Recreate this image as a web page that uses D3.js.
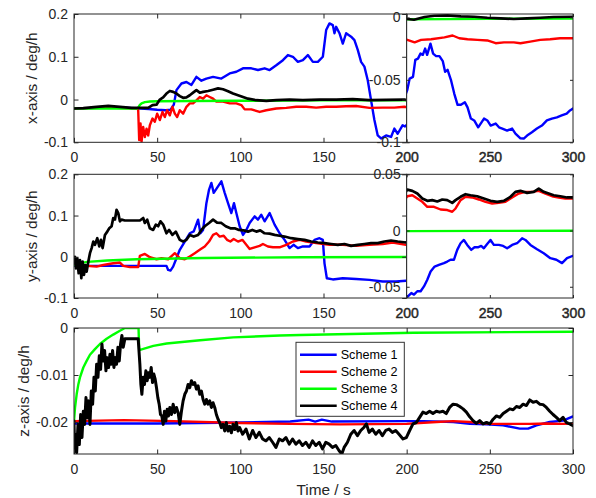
<!DOCTYPE html>
<html>
<head>
<meta charset="utf-8">
<script src="https://cdn.jsdelivr.net/npm/d3@7"></script>
<style>
  html, body { margin: 0; padding: 0; background: #fff; }
  svg { display: block; font-family: "Liberation Sans", Arial, Helvetica, sans-serif; }
</style>
</head>
<body>
<script>
// Gyro bias estimates (deg/h) for four schemes, per axis, as [time s, value]

const seriesNames = ["Scheme 1", "Scheme 2", "Scheme 3", "Scheme 4"];
const seriesColors = ["#0000ff", "#ff0000", "#00ff00", "#000000"];

const xTicksMain = [0, 50, 100, 150];
const xTicksInset = [200, 250, 300];
const xTicksFull = [0, 50, 100, 150, 200, 250, 300];
const yTicksXY = [-0.1, 0, 0.1, 0.2];
const yTicksXInset = [-0.1, -0.05, 0];
const yTicksYInset = [-0.05, 0, 0.05];
const yTicksZ = [-0.02, -0.01, 0];

// ---- x-axis ----
const xBlue = [[0,-0.021],[10,-0.02],[20,-0.018],[30,-0.019],[40,-0.021],[45,-0.022],[50,-0.024],[55,-0.025],[58,-0.024],[60,-0.012],[61.6,0.022],[64.6,0.0375],[67.6,0.041],[70.6,0.034],[73.6,0.053],[76.6,0.044],[79.6,0.049],[83.6,0.053],[88.6,0.049],[93.6,0.061],[97.6,0.065],[101.6,0.073],[106.6,0.073],[110.6,0.069],[114.6,0.073],[117.6,0.069],[121.6,0.080],[125.6,0.092],[128.6,0.104],[131.6,0.100],[134.6,0.088],[137.6,0.092],[140.6,0.104],[143.6,0.088],[146.6,0.088],[149.6,0.100],[151.6,0.1625],[153.6,0.178],[155.6,0.174],[156.6,0.155],[157.6,0.170],[159.6,0.155],[161.6,0.131],[163.6,0.155],[166.6,0.147],[168.6,0.139],[170.6,0.116],[172.6,0.088],[174.6,0.077],[176.6,0.045],[178.6,-0.002],[180.6,-0.048],[182.6,-0.084],[184.6,-0.091],[187.6,-0.084],[190.6,-0.0875],[192.6,-0.068],[194.6,-0.080],[197.6,-0.060],[199,-0.063],[200.4,-0.058],[201.8,-0.049],[203.8,-0.0476],[205.2,-0.034],[206.8,-0.033],[208.3,-0.029],[209.7,-0.030],[211.1,-0.025],[212.3,-0.030],[214.3,-0.021],[215.9,-0.029],[217.7,-0.031],[219.7,-0.031],[221.7,-0.035],[223.1,-0.0435],[224.6,-0.042],[226.6,-0.050],[228.6,-0.061],[230.6,-0.070],[232.6,-0.070],[235,-0.068],[236.6,-0.072],[238.6,-0.081],[240.6,-0.0825],[243,-0.088],[244.5,-0.085],[246.5,-0.081],[248.5,-0.0825],[250.5,-0.0866],[253.5,-0.085],[255.5,-0.088],[257.5,-0.089],[260.4,-0.0906],[263.4,-0.089],[265.4,-0.093],[268.4,-0.0968],[270.4,-0.097],[272.4,-0.0946],[275.3,-0.092],[278.3,-0.089],[281.3,-0.0866],[284.3,-0.0825],[287.3,-0.081],[290.3,-0.080],[293.2,-0.0785],[296.2,-0.077],[298.2,-0.0745],[300,-0.073]];
const xRed = [[0,-0.021],[10,-0.02],[20,-0.019],[30,-0.02],[38,-0.021],[38.6,-0.025],[39.2,-0.095],[40,-0.056],[40.6,-0.099],[41.6,-0.064],[42.6,-0.0875],[43.6,-0.068],[44.6,-0.084],[45.6,-0.060],[47.2,-0.0445],[48.6,-0.052],[50,-0.033],[51.6,-0.048],[53.2,-0.029],[54.6,-0.041],[56,-0.025],[57.6,-0.037],[59.2,-0.017],[60.6,-0.033],[62,-0.041],[63.6,-0.025],[65.6,-0.033],[67.6,-0.017],[69.6,-0.009],[71.6,-0.009],[73.6,-0.002],[75.6,0.006],[77.6,0.002],[79.6,0.010],[81.6,0.006],[83.6,0.002],[85.6,-0.005],[89.6,-0.005],[93.6,-0.009],[97.6,-0.009],[100.6,-0.013],[102.6,-0.023],[106.6,-0.023],[111.6,-0.029],[115.6,-0.025],[121.6,-0.021],[127.6,-0.0195],[133.6,-0.017],[139.6,-0.017],[145.6,-0.019],[151.6,-0.017],[157.6,-0.017],[163.6,-0.0156],[169.6,-0.015],[177.6,-0.0195],[185.6,-0.019],[192.6,-0.019],[198.6,-0.017],[200.4,-0.018],[204.8,-0.020],[208.7,-0.018],[214.7,-0.0175],[222.7,-0.016],[227.6,-0.0145],[231.6,-0.0167],[236.6,-0.0175],[242.5,-0.018],[248.5,-0.0185],[253.5,-0.0207],[258.5,-0.020],[264.4,-0.020],[268.4,-0.0207],[274.3,-0.0194],[280.3,-0.018],[286.3,-0.0175],[292.2,-0.0167],[300,-0.0167]];
const xGreen = [[0,-0.021],[38,-0.021],[38.6,-0.019],[39.5,-0.013],[40.6,-0.009],[42.6,-0.006],[45.6,-0.0047],[50,-0.004],[70,-0.0035],[100,-0.003],[150,-0.002],[200,-0.0015],[250,-0.0012],[300,-0.001]];
const xBlack = [[0,-0.021],[5.6,-0.02],[13.6,-0.017],[20.6,-0.015],[27.6,-0.017],[34.6,-0.0195],[44.6,-0.0195],[47.2,-0.013],[49.6,-0.012],[51.6,0],[53.6,0.005],[55.6,0.014],[57.6,0.020],[59.6,0.018],[61.6,0.014],[63.6,0.008],[65.6,0.004],[67.6,0.005],[69.6,0.010],[71.6,0.016],[73.6,0.022],[75.6,0.016],[77.6,0.018],[80.6,0.020],[83.6,0.023],[86.6,0.026],[89.6,0.024],[92.6,0.0195],[95.6,0.014],[98.6,0.010],[101.6,0.006],[104.6,0.002],[109.6,-0.0016],[115.6,-0.003],[121.6,-0.0016],[129.6,0],[137.6,-0.0016],[147.6,0],[157.6,0],[167.6,0.001],[177.6,-0.0016],[187.6,-0.001],[198.6,0],[200.4,-0.0013],[204.4,-0.0019],[210.7,0.0003],[216.7,0.0013],[224.6,0.0016],[232.6,0.0008],[240.6,0.0005],[248.5,-0.0003],[256.5,-0.0008],[264.4,-0.0013],[272.4,-0.0008],[280.3,-0.0003],[288.3,0.0003],[300,0.0005]];

// ---- y-axis ----
const yBlue = [[0,-0.022],[20,-0.022],[40,-0.022],[55.6,-0.022],[56.6,-0.032],[58,-0.0335],[59.6,-0.024],[61.6,-0.0035],[63.6,0.017],[66.6,0.037],[69.6,0.057],[72,0.0615],[74.6,0.090],[76,0.057],[77.6,0.065],[79.6,0.130],[81.2,0.163],[82.6,0.179],[84,0.155],[86,0.167],[88.6,0.183],[90.6,0.155],[92.6,0.130],[94.6,0.106],[96.2,0.130],[97.6,0.106],[99.6,0.074],[101.6,0.053],[103.6,0.065],[105.6,0.082],[108.6,0.098],[110.6,0.090],[112.6,0.102],[114.6,0.086],[117.6,0.106],[120.6,0.078],[123.6,0.057],[126.6,0.041],[129.6,0.021],[132,0.029],[134.6,0.021],[137.6,0.025],[141.6,0.025],[144.6,0.041],[147.6,0.045],[149.6,0.041],[150.6,-0.016],[152,-0.052],[155.6,-0.055],[161.6,-0.052],[169.6,-0.054],[177.6,-0.056],[185.6,-0.060],[193.6,-0.060],[199.6,-0.058],[200.4,-0.059],[202.8,-0.0556],[204.4,-0.057],[206.4,-0.054],[208.4,-0.054],[210.4,-0.0497],[212.4,-0.0438],[214.4,-0.0364],[216.8,-0.032],[219.4,-0.0305],[222.4,-0.029],[224.4,-0.0276],[226.4,-0.026],[228.4,-0.026],[230.4,-0.0172],[232.4,-0.0113],[234.4,-0.0084],[236.4,-0.0128],[238.8,-0.0172],[240.8,-0.0149],[242.8,-0.0149],[244.8,-0.0137],[246.4,-0.0158],[248.4,-0.012],[250.4,-0.0084],[252.4,-0.0128],[255.4,-0.0128],[258,-0.0137],[260.4,-0.0158],[263.4,-0.0128],[266.4,-0.0113],[269.4,-0.0069],[271.4,-0.0084],[274.4,-0.0128],[278.4,-0.0166],[282.4,-0.0202],[286.4,-0.0246],[290,-0.026],[293.4,-0.029],[296.4,-0.0246],[300,-0.0225]];
const yRed = [[0,-0.020],[7.6,-0.022],[13.6,-0.024],[17.6,-0.020],[23.6,-0.0157],[27.6,-0.014],[29.6,-0.022],[33.6,-0.025],[38.6,-0.025],[39.6,0.002],[42.6,0.007],[45.6,-0.001],[49.6,-0.006],[52.6,-0.0035],[56.6,-0.006],[60.6,0.0087],[63.6,-0.0035],[66.6,-0.006],[69.6,0.0006],[72.6,0.0087],[75.6,0.017],[78.6,0.025],[81.2,0.037],[83.6,0.053],[85.6,0.057],[87.6,0.049],[90,0.051],[92,0.041],[94,0.037],[96,0.043],[98.6,0.037],[101.2,0.041],[103.6,0.029],[105.6,0.019],[108.6,0.023],[111.6,0.0265],[113.6,0.031],[116.6,0.025],[119.6,0.023],[123.6,0.023],[127.6,0.029],[131.6,0.037],[135.6,0.041],[139.6,0.037],[145.6,0.033],[153.6,0.029],[161.6,0.029],[169.6,0.0265],[177.6,0.029],[185.6,0.031],[191.6,0.0346],[199.6,0.029],[200.4,0.0305],[203.4,0.0314],[206.4,0.0285],[209.4,0.0255],[212.4,0.0211],[216.4,0.0211],[220.4,0.0187],[224.4,0.0182],[227.4,0.0167],[229.4,0.0196],[232.4,0.027],[235.4,0.030],[239.4,0.0294],[243.4,0.0276],[247.4,0.0255],[251.4,0.024],[255.4,0.0246],[259.4,0.0255],[263.4,0.0294],[267.4,0.0329],[271.4,0.0344],[275.4,0.0344],[279.4,0.0353],[283.4,0.0329],[287.4,0.0305],[291.4,0.0294],[295.4,0.0285],[300,0.0285]];
const yGreen = [[0,-0.02],[3,-0.016],[8,-0.0124],[20,-0.009],[37.6,-0.006],[77.6,-0.003],[137.6,-0.001],[200,-0.0005],[250,-0.0003],[300,-0.0002]];
const yBlack = [[0,-0.016],[0.6,0],[1.2,-0.028],[2,-0.004],[2.8,-0.040],[3.6,-0.008],[4.4,-0.052],[5.2,-0.012],[6,-0.044],[6.8,-0.020],[7.6,-0.036],[8.6,-0.012],[9.6,0.0087],[10.6,0.021],[11.6,0.037],[12.6,0.029],[14,0.045],[15.2,0.025],[16.2,0.041],[17.2,0.021],[18.6,0.053],[20,0.061],[21.2,0.069],[22.6,0.074],[23.6,0.094],[24.6,0.090],[25.6,0.114],[26.6,0.106],[27.6,0.086],[28.6,0.090],[30.6,0.088],[34.6,0.088],[39.6,0.088],[41.6,0.094],[42.6,0.082],[44,0.090],[45.6,0.069],[47.6,0.065],[49.2,0.078],[50.6,0.074],[52,0.086],[53.6,0.078],[55.6,0.057],[57.2,0.065],[59.2,0.053],[61.2,0.061],[63.6,0.041],[65.6,0.037],[67.6,0.041],[69.6,0.053],[72,0.049],[74.6,0.053],[76.6,0.065],[78.6,0.074],[81.2,0.082],[83.6,0.090],[86,0.083],[88.6,0.082],[91.2,0.074],[94,0.069],[96.6,0.069],[99.2,0.065],[102,0.064],[104.6,0.061],[107.2,0.065],[109.6,0.061],[112,0.064],[114.6,0.057],[117.6,0.056],[120.6,0.053],[123.6,0.051],[126.6,0.049],[130.6,0.045],[134.6,0.043],[138.6,0.041],[142.6,0.037],[146.6,0.0346],[150.6,0.033],[154.6,0.031],[158.6,0.029],[162.6,0.031],[166.6,0.0265],[170.6,0.029],[174.6,0.031],[178.6,0.033],[182.6,0.033],[186.6,0.037],[190.6,0.0395],[194.6,0.037],[199.6,0.0346],[200.4,0.0364],[203.4,0.0353],[206.4,0.0329],[209.4,0.0285],[212.4,0.0264],[215.4,0.027],[218.4,0.0258],[221.4,0.0276],[224.4,0.027],[227.4,0.0246],[229.4,0.027],[232.4,0.030],[235.4,0.0323],[238.4,0.0314],[242.4,0.0305],[246.4,0.0285],[250.4,0.0264],[254.4,0.0255],[258.4,0.0264],[262.4,0.030],[265.4,0.0344],[268.4,0.0353],[272.4,0.0335],[276.4,0.0344],[279.4,0.0373],[282.4,0.0344],[285.4,0.0329],[288.4,0.0314],[292.4,0.0305],[296.4,0.0294],[300,0.0294]];

// ---- z-axis ----
const zBlue = [[0,-0.0203],[50,-0.0203],[100,-0.0201],[130,-0.0199],[141,-0.0195],[145,-0.0199],[149,-0.0195],[155,-0.0199],[200,-0.0198],[210,-0.0198],[228,-0.02],[238,-0.0204],[248,-0.0205],[258,-0.0207],[268,-0.0214],[273,-0.0214],[278,-0.0207],[286,-0.02],[294,-0.0197],[300,-0.0188]];
const zRed = [[0,-0.0198],[30,-0.0196],[60,-0.0198],[100,-0.0202],[130,-0.0204],[160,-0.0205],[200,-0.0204],[218,-0.02],[228,-0.0198],[238,-0.02],[250,-0.0204],[264,-0.0204],[274,-0.0204],[284,-0.0203],[294,-0.0204],[300,-0.0203]];
const zGreen = [[0,-0.0198],[0.6,-0.017],[1.6,-0.0141],[2.6,-0.012],[3.6,-0.0105],[5.6,-0.0084],[7.6,-0.007],[9.6,-0.0057],[12.6,-0.0045],[15.6,-0.0034],[19.6,-0.0023],[23.6,-0.0014],[27.6,-0.0006],[30.6,0],[38.8,0],[39.2,-0.0047],[47.7,-0.0038],[55.7,-0.0033],[75.8,-0.0026],[95.7,-0.002],[123.8,-0.0016],[136,-0.0015],[204,-0.001],[300,-0.0008]];
const zBlack = [[0,-0.0198],[0.4,-0.0262],[1,-0.0226],[1.6,-0.0265],[2.4,-0.0205],[3.2,-0.0248],[4,-0.0184],[4.8,-0.0233],[5.6,-0.0177],[6.4,-0.0205],[7.2,-0.0148],[8,-0.0191],[8.8,-0.0155],[9.6,-0.0205],[10.4,-0.0134],[11.2,-0.0162],[12,-0.0105],[12.8,-0.0134],[13.6,-0.0077],[14.4,-0.0105],[15.2,-0.0059],[16,-0.0088],[16.8,-0.0034],[17.6,-0.007],[18.4,-0.0048],[19.2,-0.0091],[20,-0.0063],[20.8,-0.0084],[21.6,-0.0056],[22.4,-0.0077],[23.2,-0.0048],[24,-0.0084],[24.8,-0.0063],[25.6,-0.0077],[26.4,-0.0041],[27.2,-0.007],[28,-0.0034],[28.8,-0.0016],[29.6,-0.0041],[30.6,-0.0023],[38.6,-0.0023],[39.6,-0.0077],[40.2,-0.012],[40.8,-0.0141],[41.6,-0.0105],[42.4,-0.012],[43.2,-0.0091],[44,-0.0112],[44.8,-0.0095],[45.6,-0.0105],[46.4,-0.0084],[47.2,-0.0116],[48,-0.0098],[48.8,-0.0109],[49.6,-0.0127],[50.4,-0.0148],[51.2,-0.0162],[52,-0.0184],[52.8,-0.0187],[53.6,-0.0205],[54.4,-0.0177],[55.2,-0.0198],[56,-0.0173],[56.8,-0.0187],[57.6,-0.0169],[58.6,-0.0184],[59.6,-0.0162],[60.6,-0.018],[61.6,-0.0169],[62.6,-0.018],[63.6,-0.0205],[64.6,-0.0177],[65.6,-0.0155],[66.6,-0.0141],[67.6,-0.0134],[68.6,-0.012],[69.6,-0.0127],[70.6,-0.0112],[71.6,-0.012],[72.6,-0.0116],[73.6,-0.013],[74.6,-0.0123],[75.6,-0.0141],[76.6,-0.0134],[77.6,-0.0152],[78.6,-0.0162],[79.6,-0.0152],[80.6,-0.0162],[81.6,-0.0155],[82.6,-0.0169],[83.6,-0.0159],[84.6,-0.0169],[85.6,-0.0184],[86.6,-0.0194],[87.6,-0.0201],[88.6,-0.0212],[89.6,-0.0205],[90.6,-0.0219],[91.6,-0.0201],[92.6,-0.0219],[93.6,-0.0209],[94.6,-0.0223],[95.6,-0.0205],[96.6,-0.0216],[97.6,-0.0201],[98.6,-0.0219],[99.6,-0.0212],[101.4,-0.0226],[103.4,-0.0215],[105.4,-0.0236],[107.4,-0.0218],[109.4,-0.0233],[111.4,-0.0222],[113.4,-0.0236],[115.4,-0.024],[117.4,-0.0233],[119.4,-0.0243],[121.4,-0.0254],[123.4,-0.0236],[125.4,-0.024],[127.4,-0.0233],[129.4,-0.0247],[131.4,-0.0236],[133.4,-0.0247],[135.4,-0.024],[137.4,-0.025],[139.4,-0.0243],[141.4,-0.0254],[143.4,-0.024],[145.4,-0.025],[147.4,-0.0243],[149.4,-0.0257],[151.4,-0.0243],[153.4,-0.0247],[155.4,-0.0254],[157.4,-0.025],[159.4,-0.0261],[161,-0.0268],[162.4,-0.0254],[164.4,-0.0243],[166.4,-0.0226],[168.4,-0.0218],[170.4,-0.0229],[172.4,-0.0218],[174.4,-0.0211],[175.8,-0.0204],[177.4,-0.0222],[179.4,-0.0215],[181.4,-0.0226],[183.4,-0.0218],[185.4,-0.0229],[187.4,-0.0218],[189.4,-0.0215],[191.4,-0.0222],[193.4,-0.0218],[195.4,-0.0226],[197.8,-0.0236],[199.8,-0.0233],[201.8,-0.0218],[203.8,-0.0204],[205.8,-0.0201],[207.8,-0.019],[209.8,-0.0179],[211.8,-0.0182],[213.8,-0.0177],[215.8,-0.0182],[217.8,-0.0177],[219.8,-0.0179],[221.8,-0.0177],[223.8,-0.0182],[225.8,-0.0169],[227.9,-0.0162],[229.9,-0.0163],[231.9,-0.0167],[233.9,-0.0172],[235.9,-0.0179],[237.9,-0.0189],[239.9,-0.0197],[241.9,-0.0203],[243.9,-0.0197],[245.9,-0.0204],[248,-0.0201],[250,-0.0204],[252,-0.0194],[254,-0.0187],[256,-0.019],[258,-0.0182],[260,-0.0177],[262,-0.0172],[264,-0.0174],[266,-0.0167],[268,-0.0169],[270,-0.0162],[272,-0.0165],[274,-0.0153],[276,-0.0158],[278,-0.0156],[280,-0.0162],[282,-0.0163],[284,-0.0169],[286,-0.0177],[288,-0.0184],[290,-0.019],[292,-0.0197],[294,-0.019],[296,-0.0201],[298,-0.0204],[300,-0.0208]];

// ---------------------------------------------------------------------------
const W = 596, H = 498;
const AX = "#262626";
const FONT_TICK = 14, FONT_LABEL = 15.4, FONT_LEGEND = 12.6;
const fmt = d => (d === 0 ? "0" : String(d));

const svg = d3.select("body").append("svg")
  .attr("width", W).attr("height", H);
svg.append("rect").attr("width", W).attr("height", H).attr("fill", "#fff");

const x = d3.scaleLinear().domain([0, 300]).range([74, 573]);
const xSplit = x(200);

let clipId = 0;
function clipRect(x0, y0, w, h) {
  const id = "clip" + (clipId++);
  svg.append("clipPath").attr("id", id)
    .append("rect").attr("x", x0).attr("y", y0).attr("width", w).attr("height", h);
  return "url(#" + id + ")";
}

function styleAxis(g, size, bold) {
  g.select(".domain").remove();
  g.selectAll(".tick line").attr("stroke", AX).attr("stroke-width", 1);
  g.selectAll(".tick text")
    .attr("fill", AX)
    .style("font-size", size + "px")
    .style("font-family", "'Liberation Sans', Arial, Helvetica, sans-serif");
  if (bold) g.selectAll(".tick text").attr("stroke", AX).attr("stroke-width", 0.45);
}

// Draws the four series into an axes with the given scales
function drawSeries(parent, data, ys, clip, widths) {
  const line = d3.line().x(d => x(d[0])).y(d => ys(d[1]));
  const g = parent.append("g").attr("clip-path", clip);
  data.forEach((s, i) => {
    g.append("path").datum(s)
      .attr("d", line)
      .attr("fill", "none")
      .attr("stroke", seriesColors[i])
      .attr("stroke-width", widths ? widths[i] : 2.4)
      .attr("stroke-linejoin", "round")
      .attr("stroke-linecap", "round");
  });
}

function boxAxes(g, xs, ys, x0, x1, y0, y1, opts) {
  const tk = opts.tick;
  // bottom with labels
  const b = g.append("g").attr("transform", `translate(0,${y1})`)
    .call(d3.axisBottom(xs).tickValues(opts.xTicks).tickSizeInner(-tk).tickSizeOuter(0)
      .tickPadding(10).tickFormat(opts.xLabels ? fmt : ""));
  styleAxis(b, FONT_TICK, opts.boldX);
  // top ticks
  const t = g.append("g").attr("transform", `translate(0,${y0})`)
    .call(d3.axisTop(xs).tickValues(opts.xTicks).tickSizeInner(-tk).tickSizeOuter(0).tickFormat(""));
  styleAxis(t, FONT_TICK);
  // left with labels
  const l = g.append("g").attr("transform", `translate(${x0},0)`)
    .call(d3.axisLeft(ys).tickValues(opts.yTicks).tickSizeInner(-tk).tickSizeOuter(0)
      .tickPadding(6).tickFormat(fmt));
  styleAxis(l, FONT_TICK);
  // right ticks
  const r = g.append("g").attr("transform", `translate(${x1},0)`)
    .call(d3.axisRight(ys).tickValues(opts.yTicks).tickSizeInner(-tk).tickSizeOuter(0).tickFormat(""));
  styleAxis(r, FONT_TICK);
  g.append("rect").attr("x", x0).attr("y", y0)
    .attr("width", x1 - x0).attr("height", y1 - y0)
    .attr("fill", "none").attr("stroke", AX).attr("stroke-width", 1);
}

function yLabel(text, bx, y0, y1) {
  svg.append("text")
    .attr("transform", `translate(${bx},${(y0 + y1) / 2}) rotate(-90)`)
    .attr("text-anchor", "middle")
    .attr("fill", AX)
    .style("font-size", FONT_LABEL + "px")
    .text(text);
}

// Panel with a main axes (0–200 s) and a zoomed axes (200–300 s)
function splitPanel(cfg) {
  const g = svg.append("g");
  const ys = d3.scaleLinear().domain(cfg.yDomain).range([cfg.y1, cfg.y0]);
  drawSeries(g, cfg.data, ys, clipRect(x(0), cfg.y0, xSplit - x(0), cfg.y1 - cfg.y0),
    [2.4, 2.4, 2.4, 2.7]);
  boxAxes(g, x, ys, x(0), xSplit, cfg.y0, cfg.y1,
    { xTicks: xTicksMain, yTicks: yTicksXY, xLabels: true, tick: 4.5 });
  yLabel(cfg.label, cfg.labelX, cfg.y0, cfg.y1);

  const gi = svg.append("g");
  const yi = d3.scaleLinear().domain(cfg.insetDomain).range([cfg.y1, cfg.y0]);
  gi.append("rect").attr("x", xSplit).attr("y", cfg.y0)
    .attr("width", x(300) - xSplit).attr("height", cfg.y1 - cfg.y0).attr("fill", "#fff");
  drawSeries(gi, cfg.data, yi, clipRect(xSplit, cfg.y0, x(300) - xSplit, cfg.y1 - cfg.y0),
    [2.4, 2.4, 2.4, 2.7]);
  boxAxes(gi, x, yi, xSplit, x(300), cfg.y0, cfg.y1,
    { xTicks: xTicksInset, yTicks: cfg.insetTicks, xLabels: true, tick: 3, boldX: true });
}

splitPanel({
  y0: 14, y1: 142.3, yDomain: [-0.1, 0.2],
  insetDomain: [-0.1, 0.0027], insetTicks: yTicksXInset,
  data: [xBlue, xRed, xGreen, xBlack],
  label: "x-axis / deg/h", labelX: 37
});

splitPanel({
  y0: 174.3, y1: 298, yDomain: [-0.1, 0.2],
  insetDomain: [-0.06, 0.05], insetTicks: yTicksYInset,
  data: [yBlue, yRed, yGreen, yBlack],
  label: "y-axis / deg/h", labelX: 37
});

// z-axis panel over the full time span
(function () {
  const y0 = 328, y1 = 454;
  const g = svg.append("g");
  const ys = d3.scaleLinear().domain([-0.0268, 0]).range([y1, y0]);
  drawSeries(g, [zBlue, zRed, zGreen, zBlack], ys,
    clipRect(x(0), y0, x(300) - x(0), y1 - y0), [2.4, 2.4, 2.4, 3]);
  boxAxes(g, x, ys, x(0), x(300), y0, y1,
    { xTicks: xTicksFull, yTicks: yTicksZ, xLabels: true, tick: 4.5 });
  yLabel("z-axis / deg/h", 29, y0, y1);

  svg.append("text")
    .attr("x", (x(0) + x(300)) / 2).attr("y", 495)
    .attr("text-anchor", "middle").attr("fill", AX)
    .style("font-size", FONT_LABEL + "px")
    .text("Time / s");

  // legend
  const lg = svg.append("g");
  const lx = 296, ly = 342.3, lw = 108.3, lh = 74;
  lg.append("rect").attr("x", lx).attr("y", ly).attr("width", lw).attr("height", lh)
    .attr("fill", "#fff").attr("stroke", "#333").attr("stroke-width", 1);
  const rowY = d3.scalePoint().domain(seriesNames).range([ly + 12.4, ly + 63.4]);
  seriesNames.forEach((n, i) => {
    const cy = rowY(n);
    lg.append("line").attr("x1", lx + 4).attr("x2", lx + 40.7)
      .attr("y1", cy).attr("y2", cy)
      .attr("stroke", seriesColors[i]).attr("stroke-width", 2.4);
    lg.append("text").attr("x", lx + 44.7).attr("y", cy + 4.5)
      .attr("fill", "#000").style("font-size", FONT_LEGEND + "px").text(n);
  });
})();
</script>
</body>
</html>
